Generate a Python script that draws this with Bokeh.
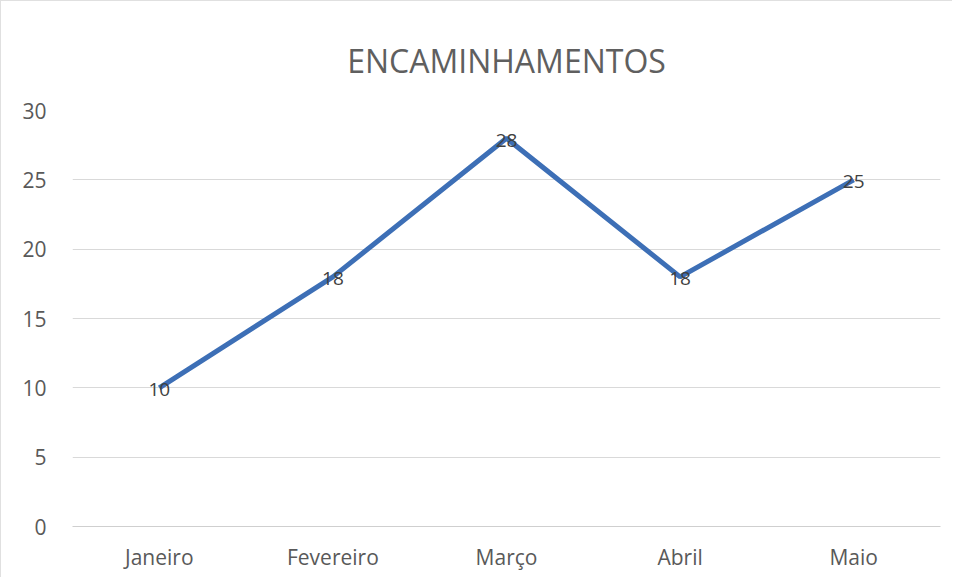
from bokeh.plotting import figure
from bokeh.models import ColumnDataSource, Range1d, FixedTicker, LabelSet
from bokeh.core.properties import value
from bokeh.embed import file_html
from bokeh.resources import INLINE

months = ["Janeiro", "Fevereiro", "Março", "Abril", "Maio"]
values = [10, 18, 28, 18, 25]
y_ticks = [0, 5, 10, 15, 20, 25, 30]
title_text = "ENCAMINHAMENTOS"

FONT = "Open Sans"

src = ColumnDataSource(dict(x=months, y=values, lbl=[str(v) for v in values]))

p = figure(x_range=months, y_range=Range1d(0, 30),
           width=952, height=577, output_backend="svg", toolbar_location=None,
           min_border_left=71, min_border_right=13, min_border_top=109, min_border_bottom=52,
           title=title_text)
p.x_range.range_padding = 0

p.title.align = "center"
p.title.offset = -19
p.title.text_font = FONT
p.title.text_font_size = "32px"
p.title.text_font_style = "normal"
p.title.text_color = "#5f5f5f"
p.title.standoff = 58

p.line("x", "y", source=src, line_color="#3d6fb6", line_width=5)

labels = LabelSet(x="x", y="y", text="lbl", source=src, text_align="center",
                  text_baseline="middle", text_font_size="19px", text_color="#404040",
                  text_font=value(FONT), y_offset=-2)
p.add_layout(labels)

p.yaxis.ticker = FixedTicker(ticks=y_ticks)
p.yaxis.axis_line_color = None
p.yaxis.major_tick_line_color = None
p.yaxis.minor_tick_line_color = None
p.yaxis.major_label_standoff = 20
p.yaxis.major_label_text_font = FONT
p.yaxis.major_label_text_font_size = "21px"
p.yaxis.major_label_text_color = "#595959"

p.xaxis.axis_line_color = "#cfcfcf"
p.xaxis.major_tick_line_color = None
p.xaxis.minor_tick_line_color = None
p.xaxis.major_label_standoff = 10
p.xaxis.major_label_text_font = FONT
p.xaxis.major_label_text_font_size = "21px"
p.xaxis.major_label_text_color = "#595959"

p.xgrid.grid_line_color = None
p.ygrid.grid_line_color = "#d9d9d9"
p.ygrid.grid_line_width = 1

p.outline_line_color = None
p.styles = {"border-top": "1px solid #e0e0e0", "border-left": "1px solid #e0e0e0"}

open("out.html", "w").write(file_html(p, INLINE))
